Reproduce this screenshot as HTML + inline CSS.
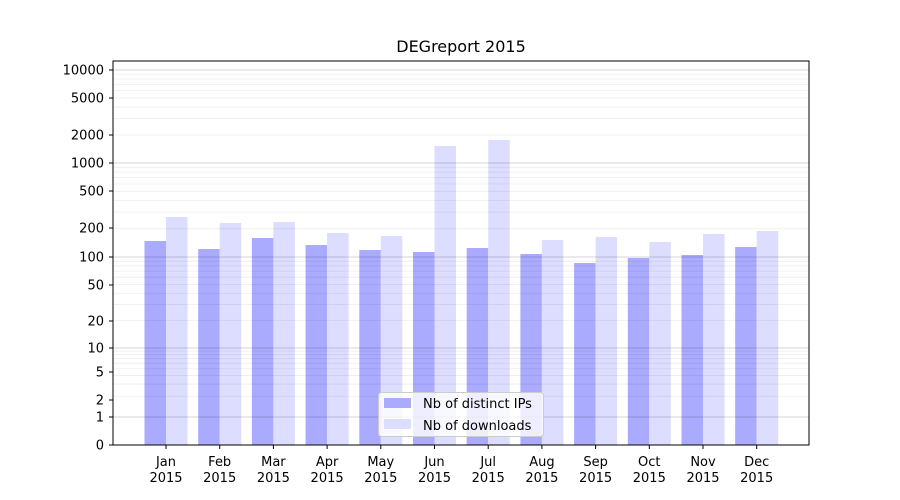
<!DOCTYPE html>
<html><head><meta charset="utf-8"><style>
html,body{margin:0;padding:0;background:#fff;}
svg{display:block;font-family:"DejaVu Sans","Liberation Sans",sans-serif;}
</style></head><body>
<svg id="s" width="900" height="500" viewBox="0 0 900 500" xmlns="http://www.w3.org/2000/svg">
<rect width="900" height="500" fill="#fff"/>
<g id="bars"></g>
<g id="grid"></g>
<rect x="113" y="61" width="696" height="384" fill="none" stroke="#000" stroke-width="1"/>
<g id="ticks" font-size="13" fill="#000"></g>
<text x="461" y="52" font-size="16" text-anchor="middle">DEGreport 2015</text>
<g>
<rect x="378.5" y="392.5" width="165" height="44" rx="3" fill="#fff" fill-opacity="0.8" stroke="#ccc"/>
<rect x="384" y="398" width="27" height="10" fill="#aaaaff"/>
<rect x="384" y="419" width="27" height="10" fill="#ddddff"/>
<text x="423" y="408" font-size="13">Nb of distinct IPs</text>
<text x="423" y="430" font-size="13">Nb of downloads</text>
</g>
</svg>
<script>
var NS="http://www.w3.org/2000/svg";
function el(p,t,a,txt){var e=document.createElementNS(NS,t);for(var k in a)e.setAttribute(k,a[k]);if(txt!==undefined)e.textContent=txt;p.appendChild(e);return e;}
var dec=[417,348,257,163,70];
function Y(v){if(v<=1)return 445-28*v;var l=Math.log10(v),k=Math.floor(l);if(k>=4)k=3;return dec[k]+(dec[k+1]-dec[k])*(l-k);}
var g=document.getElementById('grid');
for(var k=0;k<4;k++)for(var m=2;m<10;m++){var y=Y(m*Math.pow(10,k));el(g,'line',{x1:113,x2:809,y1:y,y2:y,stroke:'#000','stroke-opacity':0.07,'stroke-width':0.8});}
[1,10,100,1000,10000].forEach(function(v){var y=Y(v);el(g,'line',{x1:113,x2:809,y1:y,y2:y,stroke:'#000','stroke-opacity':0.22,'stroke-width':0.8});});
var b=document.getElementById('bars');
var blue=[241,249,238,245,250,252,248,254,263,258,255,247];
var light=[217,223,222,233,236,146,140,240,237,242,234,231];
var mon=['Jan','Feb','Mar','Apr','May','Jun','Jul','Aug','Sep','Oct','Nov','Dec'];
var t=document.getElementById('ticks');
for(var i=0;i<12;i++){var c=166+i*53.7;
el(b,'rect',{x:c-21.5,y:blue[i],width:21.5,height:445-blue[i],fill:'#aaaaff'});
el(b,'rect',{x:c,y:light[i],width:21.5,height:445-light[i],fill:'#ddddff'});
el(t,'line',{x1:c,x2:c,y1:445,y2:449,stroke:'#000'});
el(t,'text',{x:c,y:466,'text-anchor':'middle'},mon[i]);
el(t,'text',{x:c,y:482,'text-anchor':'middle'},'2015');}
[[0,445],[1,417],[2,400],[5,372],[10,348],[20,321],[50,285],[100,257],[200,228],[500,191],[1000,163],[2000,135],[5000,98],[10000,70]].forEach(function(p){
el(t,'line',{x1:109,x2:113,y1:p[1],y2:p[1],stroke:'#000'});
el(t,'text',{x:104,y:p[1]+4.5,'text-anchor':'end'},String(p[0]));});
</script>
</body></html>
